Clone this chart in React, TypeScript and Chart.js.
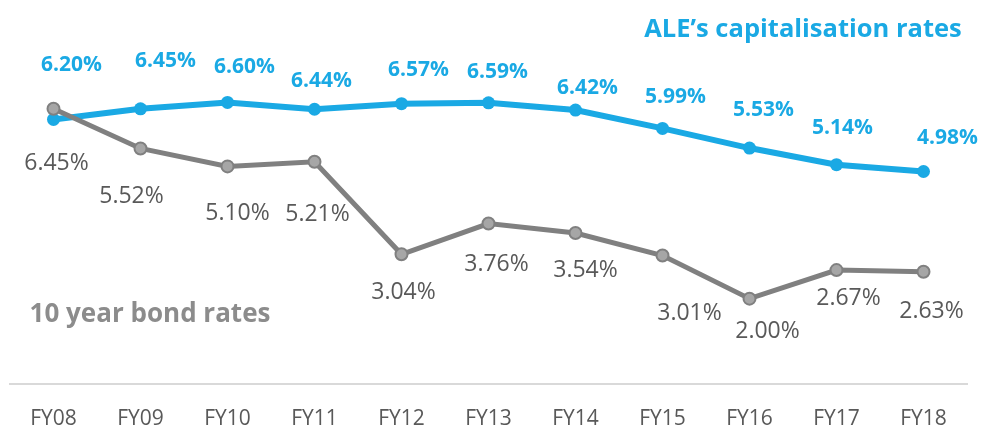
import React, { useEffect, useRef } from "react";
import { Chart, registerables } from "chart.js";

Chart.register(...registerables);

const categories = ["FY08", "FY09", "FY10", "FY11", "FY12", "FY13", "FY14", "FY15", "FY16", "FY17", "FY18"];
const capRates = [6.2, 6.45, 6.6, 6.44, 6.57, 6.59, 6.42, 5.99, 5.53, 5.14, 4.98];
const bondRates = [6.45, 5.52, 5.1, 5.21, 3.04, 3.76, 3.54, 3.01, 2.0, 2.67, 2.63];
const capTitle = "ALE\u2019s capitalisation rates";
const bondTitle = "10 year bond rates";

// label offsets (styling) relative to each point
const capLabelOffsets: [number, number][] = [
  [18, -54], [25, -48], [17, -35], [7, -28], [17, -34], [9, -31], [12, -22], [13, -31], [14, -38], [6, -37], [24, -34],
];
const bondLabelOffsets: [number, number][] = [
  [3, 55], [-9, 48], [10, 47], [3, 53], [2, 38], [8, 41], [10, 37], [27, 58], [18, 33], [12, 28], [8, 40],
];

const BLUE = "#1aa9e4";
const GREY_LINE = "#808080";
const GREY_POINT = "#a6a6a6";
const GREY_TEXT = "#595959";
const FONT = "'Open Sans', 'DejaVu Sans', sans-serif";

const labelPlugin = {
  id: "customLabels",
  afterDatasetsDraw(chart: any) {
    const ctx = chart.ctx;
    ctx.save();
    ctx.textAlign = "center";
    ctx.textBaseline = "middle";
    const bondMeta = chart.getDatasetMeta(0);
    const capMeta = chart.getDatasetMeta(1);
    ctx.font = `normal 23px ${FONT}`;
    ctx.fillStyle = GREY_TEXT;
    bondMeta.data.forEach((pt: any, i: number) => {
      const [dx, dy] = bondLabelOffsets[i];
      ctx.fillText(bondRates[i].toFixed(2) + "%", pt.x + dx, pt.y + dy);
    });
    ctx.font = `bold 21px ${FONT}`;
    ctx.fillStyle = BLUE;
    capMeta.data.forEach((pt: any, i: number) => {
      const [dx, dy] = capLabelOffsets[i];
      ctx.fillText(capRates[i].toFixed(2) + "%", pt.x + dx, pt.y + dy);
    });
    // series titles
    ctx.font = `bold 25.5px ${FONT}`;
    ctx.fillStyle = BLUE;
    ctx.fillText(capTitle, 803, 30);
    ctx.font = `bold 26px ${FONT}`;
    ctx.fillStyle = "#8c8c8c";
    ctx.fillText(bondTitle, 150, 315);
    ctx.restore();
  },
};

export default function App() {
  const ref = useRef<HTMLCanvasElement | null>(null);
  useEffect(() => {
    if (!ref.current) return;
    const chart = new Chart(ref.current, {
      type: "line",
      data: {
        labels: categories,
        datasets: [
          {
            label: bondTitle,
            data: bondRates,
            borderColor: GREY_LINE,
            backgroundColor: GREY_POINT,
            borderWidth: 5,
            pointRadius: 6,
            pointBorderWidth: 2,
            pointBorderColor: GREY_LINE,
            pointBackgroundColor: GREY_POINT,
            tension: 0,
          },
          {
            label: capTitle,
            data: capRates,
            borderColor: BLUE,
            backgroundColor: BLUE,
            borderWidth: 6,
            pointRadius: 6.5,
            pointBorderWidth: 0,
            pointBackgroundColor: BLUE,
            tension: 0,
          },
        ],
      },
      options: {
        animation: false,
        responsive: false,
        maintainAspectRatio: false,
        layout: { autoPadding: false, padding: { left: 10, right: 14, top: 0, bottom: 0 } },
        plugins: { legend: { display: false }, tooltip: { enabled: false } },
        scales: {
          x: {
            offset: true,
            grid: { display: false, drawTicks: false },
            border: { display: true, color: "#d9d9d9", width: 2 },
            ticks: { color: GREY_TEXT, font: { family: FONT, size: 21 }, padding: 22 },
            afterFit: (scale: any) => {
              scale.height = 44;
            },
          },
          y: { display: false, min: 0, max: 9 },
        },
      },
      plugins: [labelPlugin],
    });
    return () => chart.destroy();
  }, []);
  return (
    <div style={{ position: "fixed", left: 0, top: 0, width: 981, height: 428, background: "#fff" }}>
      <canvas ref={ref} width={981} height={428} style={{ display: "block" }} />
    </div>
  );
}
